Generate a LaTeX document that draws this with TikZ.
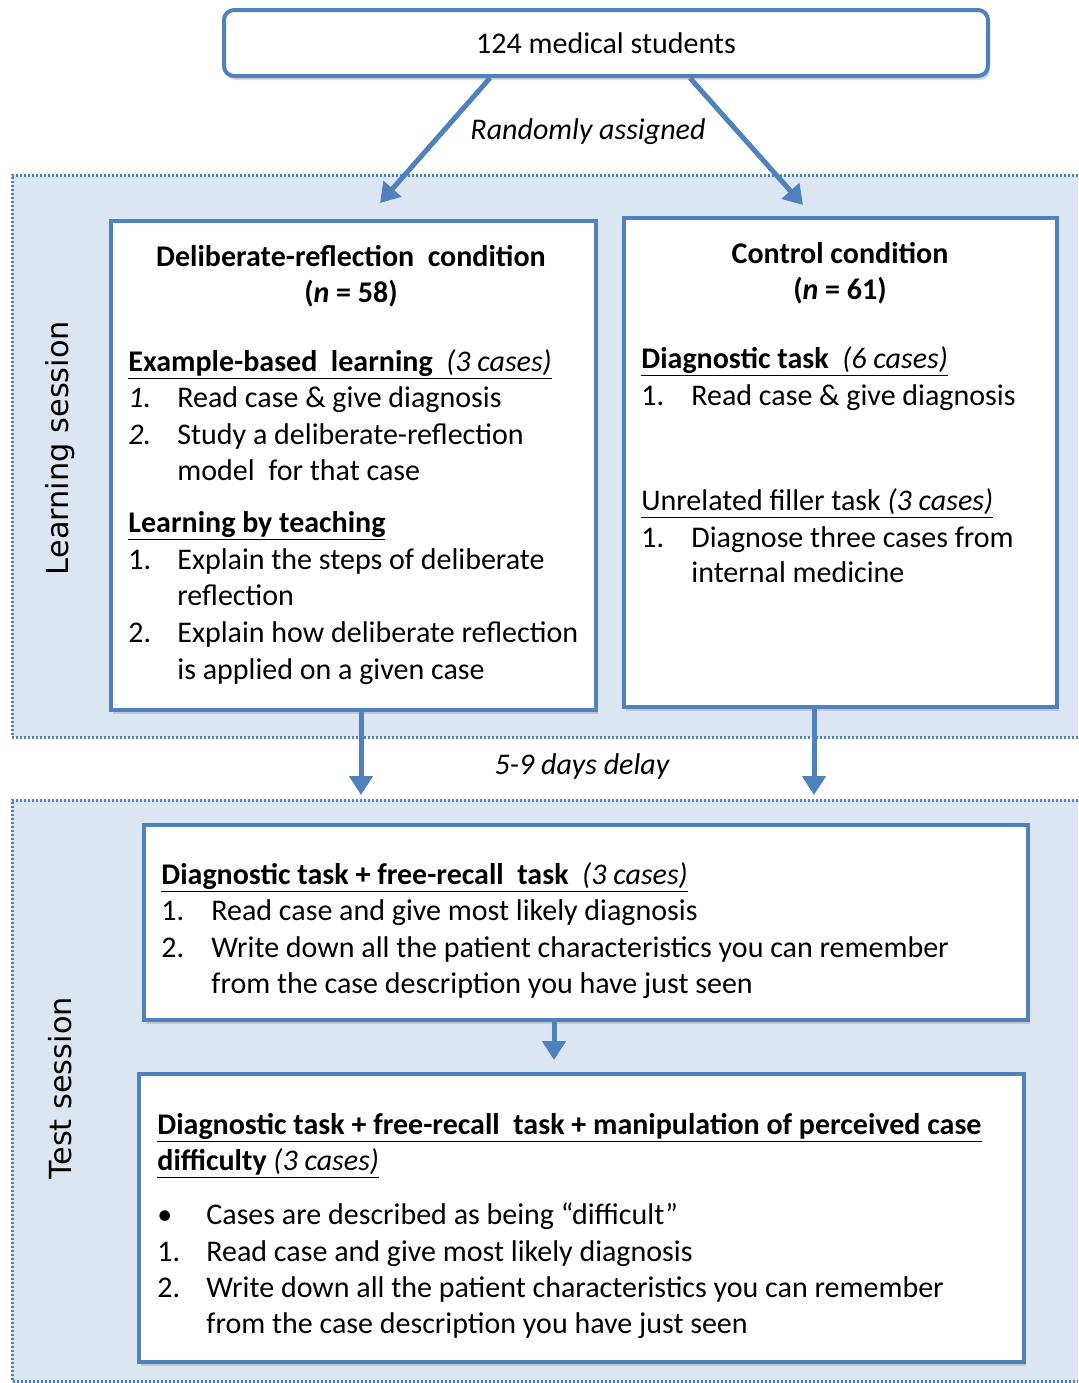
\documentclass[tikz,border=0pt]{standalone}
\usepackage{fontspec}
\setmainfont{Carlito}
\newfontfamily\sessfont{DejaVu Sans}
\usetikzlibrary{arrows.meta,shadows}

\definecolor{frameblue}{HTML}{4F81BD}
\definecolor{areablue}{HTML}{DCE6F2}

\begin{document}
\begin{tikzpicture}[x=0.5pt,y=-0.5pt,
    every node/.style={font=\fontsize{15}{18}\selectfont},
    box/.style={draw=frameblue,line width=2pt,fill=white,inner sep=0pt,
        drop shadow={shadow xshift=1pt,shadow yshift=-2pt,opacity=0.3}},
    txt/.style={anchor=base west,inner sep=0pt},
    note/.style={font=\fontsize{15}{18}\selectfont\itshape},
    title/.style={align=center,font=\fontsize{15}{18}\selectfont\bfseries},
    arr/.style={draw=frameblue,line width=2.5pt,-{Triangle[width=11.5pt,length=9.5pt]}},
    area/.style={draw=frameblue,line width=1.5pt,dash pattern=on 1pt off 1pt},
    sess/.style={rotate=90,font=\sessfont\fontsize{15.2}{17}\selectfont}]
    \useasboundingbox (0,0) rectangle (1078,1383);

    % session areas
    \fill[areablue] (12,175) rectangle (1078,737);
    \draw[area] (1078,175) -- (12,175) -- (12,737) -- (1078,737);
    \fill[areablue] (12,800) rectangle (1078,1383);
    \draw[area] (1078,800) -- (12,800) -- (12,1381) -- (1078,1381);
    \node[sess] (learnlab) at (60,448) {Learning session};
    \node[sess] (testlab) at (60,1088) {Test session};

    % boxes
    \node[box,rounded corners=5pt,minimum width=382pt,minimum height=33pt] (students) at (606,43) {124 medical students};
    \node[box,minimum width=242.5pt,minimum height=244.5pt] (drc) at (353.5,465.5) {};
    \node[box,minimum width=216.5pt,minimum height=244.5pt] (ctrl) at (840.5,462.5) {};
    \node[box,minimum width=442pt,minimum height=97.5pt] (recall) at (586,922.5) {};
    \node[box,minimum width=442.5pt,minimum height=144pt] (difficult) at (581.5,1218) {};

    % arrows
    \coordinate (toDrc) at (380,203);
    \coordinate (toCtrl) at (803,205);
    \draw[arr] ([xshift=-58pt]students.south) -- (toDrc);
    \draw[arr] ([xshift=42pt]students.south) -- (toCtrl);
    \node[note] (assign) at (588,132) {Randomly assigned};
    \coordinate (drcDown) at (361,795);
    \coordinate (ctrlDown) at (814,795);
    \draw[arr] (drc.south -| drcDown) -- (drcDown);
    \draw[arr] (ctrl.south -| ctrlDown) -- (ctrlDown);
    \node[note] (delay) at (582,766) {5-9 days delay};
    \coordinate (toDifficult) at (554,1060);
    \draw[arr] (recall.south -| toDifficult) -- (toDifficult);

    % deliberate-reflection condition
    \node[title] (drcTitle) at (351,276) {Deliberate-reflection\ \ condition\\(\textit{n} = 58)};
    \node[txt] (ebl) at (128,371) {\underline{\textbf{Example-based\ \ learning}\ \ \textit{(3 cases)}}};
    \foreach \y/\n/\t [count=\i] in {407/\textit{1.}/Read case \& give diagnosis,
        444/\textit{2.}/Study a deliberate-reflection, 480//model\ \ for that case}
        \node[txt] (drcA-\i) at (128,\y) {\makebox[24.5pt][l]{\n}\t};
    \node[txt] (lbt) at (128,532) {\underline{\textbf{Learning by teaching}}};
    \foreach \y/\n/\t [count=\i] in {569/1./Explain the steps of deliberate, 605//reflection,
        642/2./Explain how deliberate reflection, 679//is applied on a given case}
        \node[txt] (drcB-\i) at (128,\y) {\makebox[24.5pt][l]{\n}\t};

    % control condition
    \node[title] (ctrlTitle) at (840,273.5) {Control condition\\(\textit{n} = 61)};
    \node[txt] (dt) at (641,368) {\underline{\textbf{Diagnostic task}\ \ \textit{(6 cases)}}};
    \node[txt] (ctrlA-1) at (641,405) {\makebox[25pt][l]{1.}Read case \& give diagnosis};
    \node[txt] (filler) at (641,510) {\underline{Unrelated filler task \textit{(3 cases)}}};
    \foreach \y/\n/\t [count=\i] in {547/1./Diagnose three cases from, 582//internal medicine}
        \node[txt] (ctrlB-\i) at (641,\y) {\makebox[25pt][l]{\n}\t};

    % test session
    \node[txt] (rt) at (161,884) {\underline{\textbf{Diagnostic task + free-recall\ \ task}\ \ \textit{(3 cases)}}};
    \foreach \y/\n/\t [count=\i] in {920/1./Read case and give most likely diagnosis,
        957/2./Write down all the patient characteristics you can remember,
        993//from the case description you have just seen}
        \node[txt] (recall-\i) at (161,\y) {\makebox[25pt][l]{\n}\t};
    \node[txt] (mt1) at (157,1134) {\underline{\textbf{Diagnostic task + free-recall\ \ task + manipulation of perceived case}}};
    \node[txt] (mt2) at (157,1170) {\underline{\textbf{difficulty} \textit{(3 cases)}}};
    \foreach \y/\n/\t [count=\i] in {1224/\textbullet/Cases are described as being “difficult”,
        1261/1./Read case and give most likely diagnosis,
        1297/2./Write down all the patient characteristics you can remember,
        1333//from the case description you have just seen}
        \node[txt] (diff-\i) at (157,\y) {\makebox[24.5pt][l]{\n}\t};
\end{tikzpicture}
\end{document}
